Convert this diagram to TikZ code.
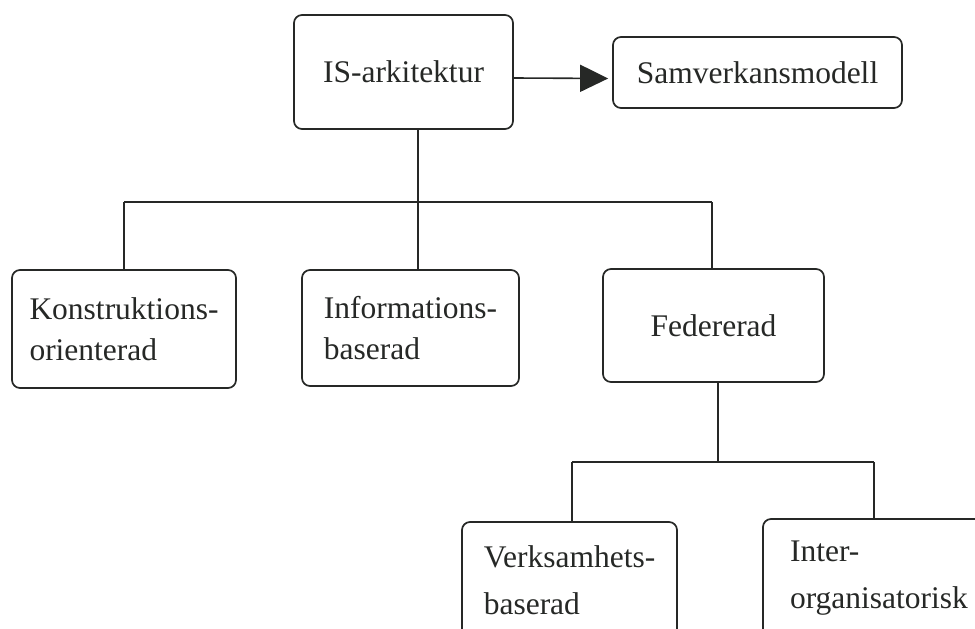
\documentclass[tikz,border=0pt]{standalone}
\usepackage{fontspec}
\setmainfont{Liberation Serif}
\usetikzlibrary{arrows.meta}
\definecolor{ink}{RGB}{38,40,38}
\begin{document}
\begin{tikzpicture}[x=1pt,y=-1pt,
  box/.style={draw=ink, line width=1.7pt, rounded corners=8pt, inner sep=0pt, text=ink, align=left, font=\fontsize{31.5}{41}\selectfont},
  lowbox/.style={box, font=\fontsize{31.5}{47}\selectfont},
  conn/.style={draw=ink, line width=1.6pt}]
\path[use as bounding box] (0,0) rectangle (975,629);
\clip (0,0) rectangle (975,629);
\node[box, minimum width=219pt, minimum height=114pt] (is) at (403.5,72) {IS-arkitektur};
\node[box, minimum width=289pt, minimum height=71pt] (sam) at (757.5,72.5) {Samverkansmodell};
\node[box, minimum width=224pt, minimum height=118pt] (kon) at (124,329) {Konstruktions-\\orienterad};
\node[box, minimum width=217pt, minimum height=116pt] (info) at (410.5,328) {Informations-\\baserad};
\node[box, minimum width=221pt, minimum height=113pt] (fed) at (713.5,325.5) {Federerad};
\node[lowbox, minimum width=215pt, minimum height=116pt] (verk) at (569.5,580) {Verksamhets-\\baserad};
\node[lowbox, minimum width=232pt, minimum height=118pt] (inter) at (879,578) {Inter-\\organisatorisk};
% arrow
\draw[conn, -{Triangle[length=28pt,width=27pt]}, shorten >=4pt] ([yshift=-6pt]is.east) -- ([yshift=-6pt]sam.west);
% upper tree
\coordinate (jtop) at (418,202);
\coordinate (bl) at (124,202);
\coordinate (br) at (712,202);
\draw[conn] (is.south -| jtop) -- (info.north -| jtop);
\draw[conn] (bl) -- (br);
\draw[conn] (bl) -- (kon.north);
\draw[conn] (br) -- (fed.north -| br);
% lower tree
\coordinate (j2) at (718,462);
\coordinate (b2l) at (572,462);
\coordinate (b2r) at (874,462);
\draw[conn] (fed.south -| j2) -- (j2);
\draw[conn] (b2l) -- (b2r);
\draw[conn] (b2l) -- (verk.north -| b2l);
\draw[conn] (b2r) -- (inter.north -| b2r);
\end{tikzpicture}
\end{document}
